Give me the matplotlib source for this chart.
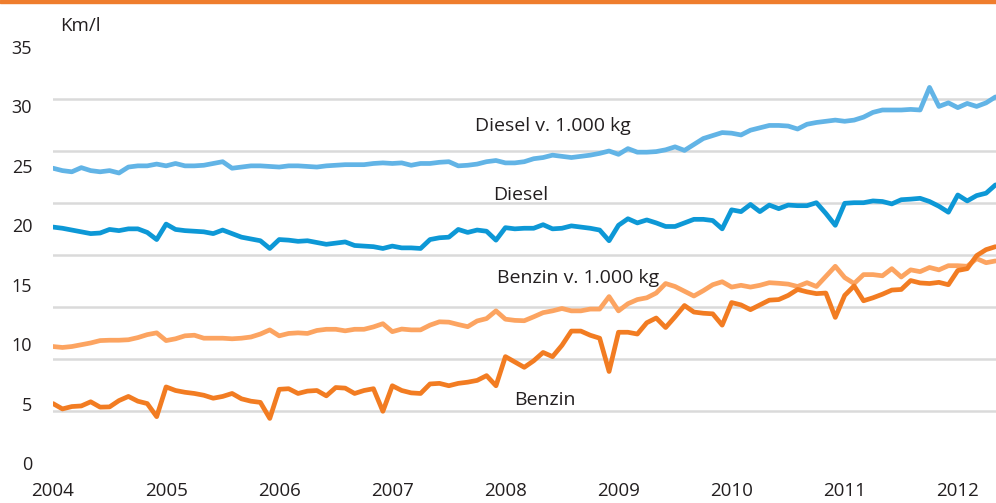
import numpy as np
import matplotlib.pyplot as plt
from matplotlib.patches import Rectangle

# monthly values, Jan 2004 - May 2012 (km/l)
diesel_1000 = [24.8, 24.6, 24.5, 24.85, 24.6, 24.5, 24.6, 24.4, 24.9, 25.0, 25.0, 25.15,
               25.0, 25.2, 25.0, 25.0, 25.05, 25.2, 25.35, 24.8, 24.9, 25.0, 25.0, 24.95,
               24.9, 25.0, 25.0, 24.95, 24.9, 25.0, 25.05, 25.1, 25.1, 25.1, 25.2, 25.25,
               25.2, 25.25, 25.05, 25.2, 25.2, 25.3, 25.35, 25.0, 25.05, 25.15, 25.35, 25.45,
               25.25, 25.25, 25.35, 25.6, 25.7, 25.9, 25.8, 25.7, 25.8, 25.9, 26.05, 26.25,
               25.97, 26.45, 26.15, 26.15, 26.2, 26.35, 26.6, 26.3, 26.8, 27.3, 27.55, 27.8,
               27.75, 27.6, 28.0, 28.2, 28.4, 28.4, 28.35, 28.1, 28.5, 28.65, 28.75, 28.85,
               28.75, 28.85, 29.1, 29.5, 29.7, 29.7, 29.7, 29.75, 29.7, 31.6, 30.0, 30.3,
               29.9, 30.25, 30.0, 30.3, 30.8]
diesel = [19.85, 19.75, 19.6, 19.45, 19.3, 19.35, 19.65, 19.55, 19.7, 19.7, 19.4, 18.8,
          20.1, 19.65, 19.55, 19.5, 19.45, 19.3, 19.6, 19.3, 19.0, 18.85, 18.7, 18.05,
          18.8, 18.75, 18.65, 18.7, 18.55, 18.4, 18.5, 18.6, 18.3, 18.25, 18.2, 18.05,
          18.25, 18.1, 18.1, 18.05, 18.8, 18.95, 19.0, 19.65, 19.4, 19.6, 19.5, 18.75,
          19.8, 19.7, 19.75, 19.75, 20.05, 19.7, 19.75, 19.95, 19.85, 19.75, 19.6, 18.7,
          20.0, 20.55, 20.2, 20.45, 20.2, 19.9, 19.9, 20.2, 20.5, 20.5, 20.4, 19.7,
          21.3, 21.15, 21.75, 21.15, 21.7, 21.4, 21.7, 21.65, 21.65, 21.9, 21.0, 20.0,
          21.85, 21.9, 21.9, 22.05, 22.0, 21.8, 22.15, 22.2, 22.27, 22.0, 21.6, 21.1,
          22.55, 22.05, 22.5, 22.7, 23.4]
benzin_1000 = [9.8, 9.72, 9.8, 9.95, 10.1, 10.3, 10.33, 10.33, 10.37, 10.55, 10.8, 10.95,
               10.3, 10.45, 10.7, 10.75, 10.5, 10.5, 10.5, 10.45, 10.5, 10.6, 10.85, 11.2,
               10.7, 10.9, 10.95, 10.9, 11.15, 11.25, 11.25, 11.12, 11.25, 11.25, 11.45, 11.72,
               11.05, 11.27, 11.2, 11.2, 11.6, 11.88, 11.85, 11.65, 11.47, 11.95, 12.15, 12.8,
               12.1, 12.0, 11.97, 12.3, 12.65, 12.8, 13.0, 12.8, 12.8, 12.95, 12.95, 14.0,
               12.8, 13.4, 13.75, 13.9, 14.3, 15.1, 14.85, 14.45, 14.05, 14.5, 15.0, 15.25,
               14.8, 14.95, 14.8, 14.95, 15.17, 15.12, 15.05, 14.85, 15.17, 14.85, 15.7, 16.55,
               15.6, 15.1, 15.85, 15.85, 15.75, 16.35, 15.65, 16.25, 16.1, 16.45, 16.25, 16.6,
               16.6, 16.55, 17.2, 16.85, 17.0]
benzin = [5.0, 4.55, 4.75, 4.8, 5.15, 4.7, 4.72, 5.25, 5.6, 5.2, 5.0, 3.9,
          6.4, 6.1, 5.95, 5.85, 5.7, 5.45, 5.6, 5.85, 5.4, 5.2, 5.1, 3.75,
          6.2, 6.25, 5.85, 6.05, 6.1, 5.65, 6.35, 6.3, 5.85, 6.1, 6.25, 4.35,
          6.5, 6.1, 5.9, 5.85, 6.65, 6.7, 6.5, 6.7, 6.8, 6.95, 7.35, 6.5,
          8.95, 8.5, 8.05, 8.6, 9.3, 8.95, 9.9, 11.1, 11.1, 10.75, 10.5, 7.7,
          11.0, 11.0, 10.85, 11.8, 12.2, 11.4, 12.3, 13.25, 12.7, 12.6, 12.55, 11.6,
          13.5, 13.3, 12.9, 13.3, 13.7, 13.75, 14.1, 14.6, 14.4, 14.25, 14.3, 12.25,
          14.1, 14.9, 13.65, 13.9, 14.2, 14.55, 14.6, 15.35, 15.15, 15.1, 15.2, 15.0,
          16.2, 16.35, 17.45, 17.95, 18.2]

years = [2004, 2005, 2006, 2007, 2008, 2009, 2010, 2011, 2012]
yticks = [0, 5, 10, 15, 20, 25, 30, 35]

t = 2004 + np.arange(len(benzin)) / 12.0

plt.rcParams['font.family'] = ['Open Sans', 'DejaVu Sans']
txt = '#231f20'

fig = plt.figure(figsize=(9.96, 5.03), dpi=100)
ax = fig.add_axes([53 / 996, 40 / 503, 943 / 996, 416 / 503])

# orange rule at top of the graphic
fig.patches.append(Rectangle((0, 1 - 3 / 503), 1, 3 / 503, transform=fig.transFigure,
                             color='#ef7d2d', zorder=5))

# grid lines are spaced independently from the labels in the original
ax.set_yticks(np.linspace(0, 35, 9), minor=True)
ax.grid(which='minor', axis='y', color='#dadada', lw=1.8)
ax.set_axisbelow(True)

kw = dict(lw=3.4, solid_joinstyle='round', solid_capstyle='round', clip_on=True)
ax.plot(t, diesel_1000, color='#62b4e6', **kw)
ax.plot(t, diesel, color='#0d98d6', **kw)
ax.plot(t, benzin_1000, color='#fca461', **kw)
ax.plot(t, benzin, color='#f27c22', **kw)

ax.set_xlim(2004, 2004 + 943 / 113.1)
ax.set_ylim(0, 35)
ax.set_xticks(years)
ax.set_xticklabels([str(y) for y in years], fontsize=13.5, color=txt)
ax.set_yticks(yticks)
ax.set_yticklabels([str(v) for v in yticks], fontsize=13, color=txt)
ax.tick_params(axis='both', which='both', length=0)
ax.tick_params(axis='x', pad=14)
ax.tick_params(axis='y', pad=15)
for s in ax.spines.values():
    s.set_visible(False)

ax.text(2007.73, 28.35, 'Diesel v. 1.000 kg', fontsize=14, color=txt, va='center')
ax.text(2007.89, 22.55, 'Diesel', fontsize=14, color=txt, va='center')
ax.text(2007.93, 15.56, 'Benzin v. 1.000 kg', fontsize=14, color=txt, va='center')
ax.text(2008.08, 5.3, 'Benzin', fontsize=14, color=txt, va='center')
fig.text(60 / 996, 1 - 26 / 503, 'Km/l', fontsize=13.5, color=txt, va='center', ha='left')

fig.savefig('out.png', dpi=100)
